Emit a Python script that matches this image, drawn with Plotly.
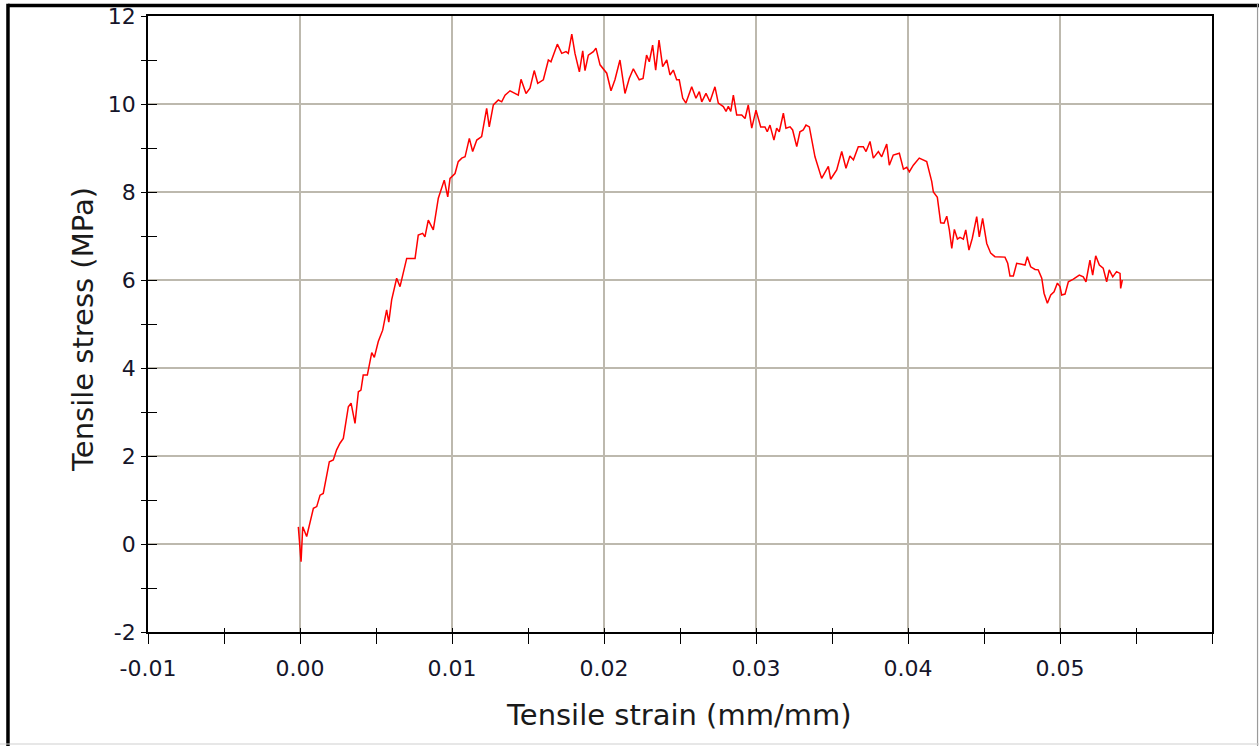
import plotly.graph_objects as go

strain = [
    -0.00011, 0.00007, 0.00018, 0.00044, 0.00088, 0.00110, 0.00132, 0.00153, 0.00193, 0.00219,
    0.00241, 0.00263, 0.00285, 0.00318, 0.00336, 0.00362, 0.00384, 0.00401, 0.00416, 0.00443,
    0.00472, 0.00489, 0.00515, 0.00544, 0.00570, 0.00584, 0.00603, 0.00636, 0.00658, 0.00702,
    0.00757, 0.00778, 0.00807, 0.00822, 0.00844, 0.00877, 0.00910, 0.00949, 0.00972, 0.00987,
    0.01020, 0.01041, 0.01064, 0.01086, 0.01114, 0.01136, 0.01163, 0.01195, 0.01228, 0.01245,
    0.01272, 0.01305, 0.01327, 0.01349, 0.01382, 0.01436, 0.01454, 0.01487, 0.01513, 0.01541,
    0.01564, 0.01601, 0.01634, 0.01651, 0.01693, 0.01722, 0.01750, 0.01765, 0.01788, 0.01809,
    0.01838, 0.01860, 0.01875, 0.01897, 0.01930, 0.01947, 0.01974, 0.02018, 0.02046, 0.02072,
    0.02105, 0.02138, 0.02166, 0.02193, 0.02232, 0.02257, 0.02280, 0.02298, 0.02320, 0.02340,
    0.02362, 0.02386, 0.02413, 0.02434, 0.02456, 0.02478, 0.02495, 0.02518, 0.02539, 0.02577,
    0.02605, 0.02627, 0.02643, 0.02671, 0.02697, 0.02730, 0.02752, 0.02785, 0.02803, 0.02818,
    0.02834, 0.02851, 0.02873, 0.02906, 0.02928, 0.02949, 0.02972, 0.03000, 0.03031, 0.03059,
    0.03074, 0.03092, 0.03118, 0.03136, 0.03153, 0.03180, 0.03197, 0.03224, 0.03241, 0.03268,
    0.03289, 0.03311, 0.03329, 0.03351, 0.03388, 0.03432, 0.03476, 0.03491, 0.03531, 0.03564,
    0.03592, 0.03618, 0.03641, 0.03673, 0.03706, 0.03724, 0.03750, 0.03772, 0.03805, 0.03827,
    0.03860, 0.03877, 0.03903, 0.03943, 0.03970, 0.03992, 0.04009, 0.04035, 0.04074, 0.04123,
    0.04156, 0.04167, 0.04193, 0.04215, 0.04237, 0.04255, 0.04272, 0.04288, 0.04305, 0.04325,
    0.04342, 0.04364, 0.04380, 0.04401, 0.04423, 0.04452, 0.04469, 0.04491, 0.04518, 0.04544,
    0.04572, 0.04638, 0.04656, 0.04671, 0.04693, 0.04715, 0.04748, 0.04770, 0.04785, 0.04807,
    0.04836, 0.04857, 0.04880, 0.04895, 0.04917, 0.04939, 0.04961, 0.04983, 0.05000, 0.05011,
    0.05033, 0.05055, 0.05088, 0.05127, 0.05153, 0.05171, 0.05197, 0.05215, 0.05235, 0.05259,
    0.05284, 0.05307, 0.05324, 0.05347, 0.05372, 0.05395, 0.05399, 0.05410,
]

stress = [
    0.39, -0.40, 0.39, 0.17, 0.81, 0.85, 1.11, 1.15, 1.87, 1.91,
    2.14, 2.29, 2.40, 3.12, 3.20, 2.74, 3.46, 3.50, 3.84, 3.84,
    4.35, 4.24, 4.60, 4.86, 5.32, 5.04, 5.55, 6.04, 5.85, 6.49,
    6.49, 7.02, 7.06, 6.98, 7.36, 7.14, 7.86, 8.27, 7.89, 8.31,
    8.42, 8.69, 8.77, 8.80, 9.22, 8.92, 9.18, 9.26, 9.90, 9.48,
    9.98, 10.09, 10.05, 10.20, 10.30, 10.20, 10.56, 10.24, 10.36, 10.76,
    10.47, 10.55, 11.00, 10.96, 11.36, 11.15, 11.19, 11.15, 11.59, 11.15,
    10.73, 11.21, 10.76, 11.11, 11.19, 11.27, 10.89, 10.70, 10.30, 10.55,
    11.00, 10.24, 10.58, 10.80, 10.55, 10.58, 11.11, 10.96, 11.34, 10.77,
    11.45, 10.85, 11.00, 10.66, 10.77, 10.55, 10.55, 10.13, 10.02, 10.39,
    10.13, 10.28, 10.05, 10.24, 10.05, 10.39, 10.02, 9.94, 9.83, 9.95,
    9.83, 10.20, 9.75, 9.75, 9.67, 9.98, 9.45, 9.86, 9.48, 9.48,
    9.37, 9.52, 9.18, 9.45, 9.37, 9.79, 9.45, 9.48, 9.41, 9.03,
    9.37, 9.41, 9.52, 9.48, 8.80, 8.31, 8.58, 8.29, 8.50, 8.92,
    8.54, 8.82, 8.73, 9.03, 9.03, 8.92, 9.15, 8.77, 8.92, 8.80,
    9.09, 8.61, 8.84, 8.88, 8.52, 8.56, 8.46, 8.61, 8.77, 8.69,
    8.24, 8.00, 7.88, 7.30, 7.29, 7.45, 7.14, 6.72, 7.15, 6.93,
    6.97, 6.93, 7.14, 6.68, 6.95, 7.44, 6.98, 7.40, 6.83, 6.61,
    6.53, 6.52, 6.38, 6.09, 6.09, 6.38, 6.36, 6.34, 6.53, 6.30,
    6.24, 6.23, 6.04, 5.70, 5.47, 5.66, 5.73, 5.93, 5.85, 5.66,
    5.68, 5.96, 6.02, 6.11, 6.07, 5.96, 6.45, 6.11, 6.55, 6.34,
    6.27, 5.96, 6.23, 6.07, 6.19, 6.15, 5.81, 6.00,
]

x_range = [-0.01, 0.06]
y_range = [-2, 12]
x_tickvals = [-0.01, 0.00, 0.01, 0.02, 0.03, 0.04, 0.05]
x_ticktext = ["-0.01", "0.00", "0.01", "0.02", "0.03", "0.04", "0.05"]
y_tickvals = [-2, 0, 2, 4, 6, 8, 10, 12]
y_ticktext = ["-2", "0", "2", "4", "6", "8", "10", "12"]
x_title = "Tensile strain (mm/mm)"
y_title = "Tensile stress (MPa)"

FONT = "DejaVu Sans"
GRID = "#bdb9ae"
TICKCOL = "#15152a"

fig = go.Figure()
fig.add_trace(go.Scatter(
    x=strain, y=stress, mode="lines",
    line=dict(color="#ff0000", width=1.5),
    showlegend=False, hoverinfo="skip",
))
# helper overlay axes for the inner halves of the crossing ticks
fig.add_trace(go.Scatter(x=[], y=[], xaxis="x2", yaxis="y2", showlegend=False))

common = dict(showline=True, linecolor="black", linewidth=1.6, mirror=True,
              gridcolor=GRID, gridwidth=1.6, zeroline=False, automargin=False,
              ticks="outside", tickcolor="black", tickwidth=1.4)

fig.update_layout(
    width=1259, height=746,
    margin=dict(l=148, r=47, t=16, b=114, autoexpand=False),
    paper_bgcolor="white", plot_bgcolor="white",
    font=dict(family=FONT, color=TICKCOL),
    xaxis=dict(range=x_range, tickvals=x_tickvals, ticktext=x_ticktext,
               ticklen=10, ticklabelstandoff=6,
               tickfont=dict(size=22, family=FONT, color=TICKCOL),
               minor=dict(dtick=0.005, tick0=0, ticks="outside", ticklen=10,
                          tickcolor="black", tickwidth=1.4, showgrid=False),
               **common),
    yaxis=dict(range=y_range, tickvals=y_tickvals, ticktext=y_ticktext,
               ticklen=5, ticklabelstandoff=1,
               tickfont=dict(size=22, family=FONT, color=TICKCOL),
               minor=dict(dtick=1, tick0=0, ticks="outside", ticklen=5,
                          tickcolor="black", tickwidth=1.4, showgrid=False),
               **common),
    xaxis2=dict(range=x_range, overlaying="x", side="bottom", anchor="y2",
                showgrid=False, showline=False, zeroline=False, showticklabels=False,
                dtick=0.005, tick0=0, ticks="inside", ticklen=4, automargin=False,
                tickcolor="black", tickwidth=1.4),
    yaxis2=dict(range=y_range, overlaying="y", side="left", anchor="x2",
                showgrid=False, showline=False, zeroline=False, showticklabels=False,
                dtick=1, tick0=0, ticks="inside", ticklen=9, automargin=False,
                tickcolor="black", tickwidth=1.4),
    annotations=[
        dict(text=x_title, xref="paper", yref="paper", x=0.499, y=-0.1347,
             xanchor="center", yanchor="middle", showarrow=False,
             font=dict(size=29, family=FONT, color="#1a1a1a")),
        dict(text=y_title, xref="paper", yref="paper", x=-0.0611, y=0.4919,
             xanchor="center", yanchor="middle", showarrow=False, textangle=-90,
             font=dict(size=29, family=FONT, color="#1a1a1a")),
    ],
    shapes=[
        dict(type="line", xref="paper", yref="paper", x0=-0.1316, x1=1.05, y0=1.01705, y1=1.01705,
             line=dict(color="black", width=3.5)),
        dict(type="line", xref="paper", yref="paper", x0=-0.1316, x1=-0.1316, y0=-0.19, y1=1.02,
             line=dict(color="black", width=3.5)),
        dict(type="line", xref="paper", yref="paper", x0=1.0428, x1=1.0428, y0=-0.19, y1=1.02,
             line=dict(color="#9a9a9a", width=1.2)),
        dict(type="line", xref="paper", yref="paper", x0=-0.14, x1=1.05, y0=-0.1818, y1=-0.1818,
             line=dict(color="#d0d0d0", width=1.2)),
    ],
)

fig.write_html("out.html", config={"displayModeBar": False},
               post_script="document.body.style.margin='0';document.body.style.overflow='hidden';")
